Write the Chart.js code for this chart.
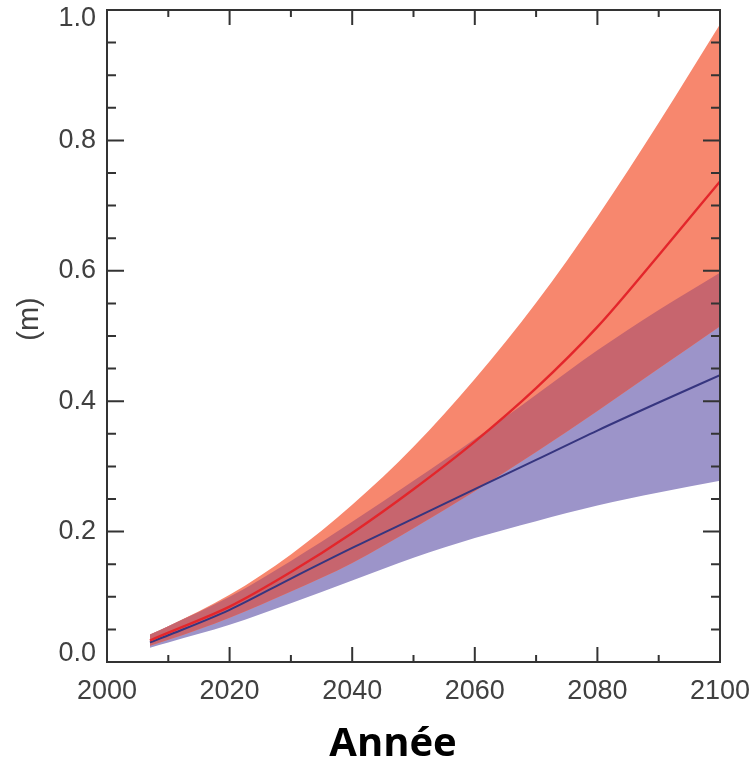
<!DOCTYPE html>
<html>
<head>
<meta charset="utf-8">
<title>Élévation du niveau de la mer</title>
<script src="https://cdn.jsdelivr.net/npm/chart.js@4/dist/chart.umd.min.js"></script>
<style>
  html, body { margin: 0; padding: 0; background: #ffffff; }
  #wrap { width: 750px; height: 759px; position: relative; }
</style>
</head>
<body>
<div id="wrap"><canvas id="chart" width="750" height="759"></canvas></div>
<script>
// Years of the projection
const years = [2007, 2010, 2020, 2030, 2040, 2050, 2060, 2070, 2080, 2090, 2100];

// High scenario (red): upper bound, central estimate, lower bound (m)
const redUpper = [0.042, 0.055, 0.103, 0.165, 0.241, 0.330, 0.434, 0.551, 0.683, 0.827, 0.978];
const redMean  = [0.033, 0.045, 0.085, 0.138, 0.198, 0.265, 0.338, 0.420, 0.514, 0.624, 0.737];
const redLower = [0.025, 0.034, 0.068, 0.108, 0.152, 0.205, 0.262, 0.322, 0.385, 0.450, 0.515];

// Low scenario (blue): upper bound, central estimate, lower bound (m)
const blueUpper = [0.042, 0.055, 0.100, 0.155, 0.215, 0.278, 0.342, 0.410, 0.478, 0.540, 0.597];
const blueMean  = [0.030, 0.041, 0.080, 0.128, 0.175, 0.220, 0.265, 0.310, 0.355, 0.398, 0.440];
const blueLower = [0.022, 0.030, 0.057, 0.090, 0.125, 0.160, 0.190, 0.216, 0.240, 0.260, 0.278];

// Axis tick values
const xTicks = [2000, 2020, 2040, 2060, 2080, 2100];
const yTicks = [0.0, 0.2, 0.4, 0.6, 0.8, 1.0];

const pts = arr => arr.map((v, i) => ({ x: years[i], y: v }));

// Region where the two ranges overlap
const overlapTop = redUpper.map((v, i) => Math.min(v, blueUpper[i]));
const overlapBottom = redLower.map((v, i) => Math.max(v, blueLower[i]));

const COL_RED_BAND = '#f7876e';
const COL_BLUE_BAND = '#9c94c9';
const COL_OVERLAP = '#c7656e';
const COL_RED_LINE = '#e3262b';
const COL_BLUE_LINE = '#36357f';
const AXIS = '#333333';
const LABEL = '#404040';

const band = (label, data, order, fill, color) => ({
  label, data: pts(data), order,
  borderWidth: 0, pointRadius: 0, borderColor: 'transparent',
  backgroundColor: color || 'transparent',
  fill: fill === undefined ? false : fill,
  cubicInterpolationMode: 'monotone'
});

const datasets = [
  band('blueLower', blueLower, 7),                                  // 0
  band('blueUpper', blueUpper, 6, { target: 0 }, COL_BLUE_BAND),     // 1
  band('redLower', redLower, 5),                                    // 2
  band('redUpper', redUpper, 4, { target: 2 }, COL_RED_BAND),        // 3
  band('overlapBottom', overlapBottom, 3),                          // 4
  band('overlapTop', overlapTop, 2, { target: 4 }, COL_OVERLAP),     // 5
  { label: 'blueMean', data: pts(blueMean), order: 1, borderColor: COL_BLUE_LINE,
    borderWidth: 2, pointRadius: 0, fill: false, cubicInterpolationMode: 'monotone' },
  { label: 'redMean', data: pts(redMean), order: 0, borderColor: COL_RED_LINE,
    borderWidth: 2.4, pointRadius: 0, fill: false, cubicInterpolationMode: 'monotone' }
];

// Keep the end labels of the value axis inside the frame
const endLabelPlugin = {
  id: 'endLabels',
  beforeDraw(chart) {
    const items = chart.scales.y.getLabelItems();
    items.forEach(it => {
      if (it._shifted) return;
      if (it.label === '1.0') it.options.translation[1] += 9;
      if (it.label === '0.0') it.options.translation[1] -= 8;
      it._shifted = true;
    });
  }
};

// Frame with inward ticks on all four sides, plus the axis captions
const framePlugin = {
  id: 'frame',
  afterDatasetsDraw(chart) {
    const { ctx, chartArea: a, scales: { x, y } } = chart;
    ctx.save();
    ctx.strokeStyle = AXIS;
    ctx.lineWidth = 2;
    ctx.strokeRect(a.left, a.top, a.right - a.left, a.bottom - a.top);
    ctx.beginPath();
    for (let yr = 2000; yr <= 2100; yr += 10) {
      const px = x.getPixelForValue(yr);
      const len = (yr % 20 === 0) ? 15 : 7;
      ctx.moveTo(px, a.bottom); ctx.lineTo(px, a.bottom - len);
      ctx.moveTo(px, a.top); ctx.lineTo(px, a.top + len);
    }
    for (let k = 0; k <= 20; k++) {
      const py = y.getPixelForValue(k * 0.05);
      const len = (k % 4 === 0) ? 17 : 9;
      ctx.moveTo(a.left, py); ctx.lineTo(a.left + len, py);
      ctx.moveTo(a.right, py); ctx.lineTo(a.right - len, py);
    }
    ctx.stroke();
    ctx.restore();
  },
  afterDraw(chart) {
    const { ctx } = chart;
    ctx.save();
    ctx.fillStyle = LABEL;
    ctx.font = '29px "Liberation Sans", Arial, sans-serif';
    ctx.textAlign = 'center';
    ctx.textBaseline = 'middle';
    ctx.translate(30, 319);
    ctx.rotate(-Math.PI / 2);
    ctx.fillText('(m)', 0, 0);
    ctx.restore();

    ctx.save();
    ctx.fillStyle = '#000000';
    ctx.font = 'bold 40px "Open Sans", sans-serif';
    ctx.textAlign = 'center';
    ctx.textBaseline = 'alphabetic';
    ctx.fillText('Année', 393, 756);
    ctx.restore();
  }
};

const tickFont = { family: '"Liberation Sans", Arial, sans-serif', size: 27 };

new Chart(document.getElementById('chart'), {
  type: 'line',
  data: { datasets },
  plugins: [endLabelPlugin, framePlugin],
  options: {
    responsive: false,
    animation: false,
    layout: { padding: { top: 10, right: 30, left: 0, bottom: 0 } },
    plugins: { legend: { display: false }, tooltip: { enabled: false } },
    scales: {
      x: {
        type: 'linear', min: 2000, max: 2100,
        grid: { display: false, drawTicks: false }, border: { display: false },
        afterBuildTicks: s => { s.ticks = xTicks.map(v => ({ value: v })); },
        ticks: {
          color: LABEL, padding: 13, maxRotation: 0, autoSkip: false,
          font: tickFont,
          callback: v => String(v)
        },
        afterFit: s => { s.height = 97; s.paddingLeft = 0; s.paddingRight = 0; }
      },
      y: {
        type: 'linear', min: 0, max: 1,
        grid: { display: false, drawTicks: false }, border: { display: false },
        afterBuildTicks: s => { s.ticks = yTicks.map(v => ({ value: v })); },
        ticks: {
          color: LABEL, padding: 11,
          font: tickFont,
          callback: v => Number(v).toFixed(1)
        },
        afterFit: s => { s.width = 107; s.paddingTop = 0; s.paddingBottom = 0; }
      }
    }
  }
});
</script>
</body>
</html>
